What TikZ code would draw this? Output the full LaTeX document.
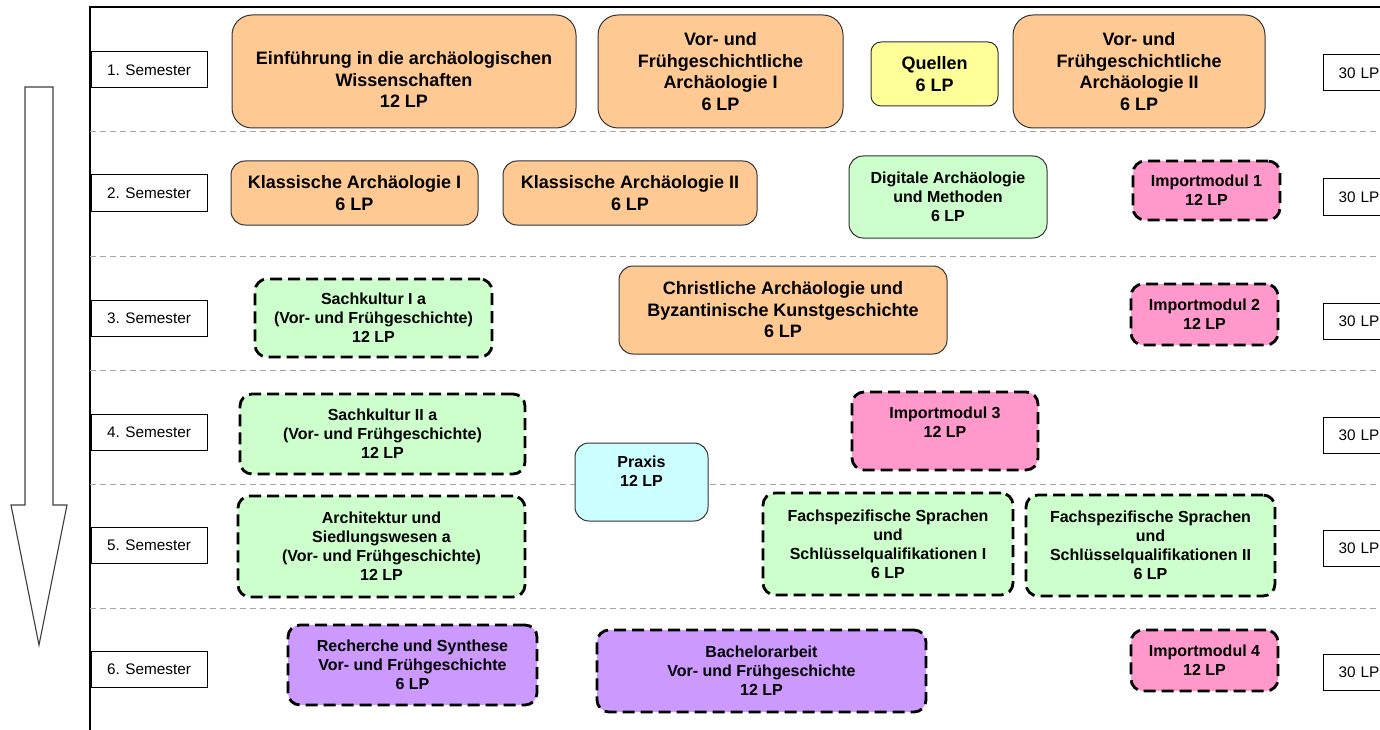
\documentclass[tikz,border=0pt]{standalone}
\usepackage{fontspec}
\setmainfont{Liberation Sans}
\definecolor{ocker}{HTML}{FFC994}
\definecolor{gelb}{HTML}{FFFF99}
\definecolor{gruen}{HTML}{CCFFCC}
\definecolor{rosa}{HTML}{FF99CC}
\definecolor{lila}{HTML}{CC99FF}
\definecolor{hellblau}{HTML}{CCFFFF}
\newcommand{\hoch}[2]{\raisebox{#1}[0pt][0pt]{\begin{tabular}{@{}c@{}}#2\end{tabular}}}

\begin{document}
\begin{tikzpicture}[
		x=1pt, y=-1pt
		,sem/.style={draw, fill=white, line width=1pt, minimum width=116pt, minimum height=36pt, inner sep=0pt, font=\fontsize{15.3}{18}\selectfont}
		,lp/.style={draw, fill=white, line width=1pt, anchor=west, minimum height=36pt, text width=60pt, align=left, inner xsep=15pt, inner ysep=0pt, font=\fontsize{15.3}{18}\selectfont}
		,modul/.style={draw=black!80, line width=1pt, rounded corners=14pt, align=center, inner sep=0pt, font=\bfseries\fontsize{18}{21.5}\selectfont}
		,klein/.style={font=\bfseries\fontsize{16}{19}\selectfont}
		,wahl/.style={draw=black, line width=2.8pt, dash pattern=on 12pt off 6pt, rounded corners=12pt}
		,trenner/.style={draw=gray!70, line width=0.8pt, dash pattern=on 6pt off 4pt}
		,pfeil/.style={draw=black!75, fill=white, line width=1.1pt}
	]
		\useasboundingbox (0,0) rectangle (1380,730);

		% Rahmen und Trennlinien
		\draw[line width=1.3pt] (1380,7) -- (90,7) -- (90,730);
		\foreach \y in {131,256,370,484,608}
			\draw[trenner] (90,\y) -- (1380,\y);

		% Pfeil
		\draw[pfeil] (25,87) -- (53,87) -- (53,505) -- (67,505) -- (39,645) -- (11,505) -- (25,505) -- cycle;

		% Semester
		\node[sem] (s1) at (149,70) {1. Semester};
		\node[sem] (s2) at (149,193) {2. Semester};
		\node[sem] (s3) at (149,318) {3. Semester};
		\node[sem] (s4) at (149,432) {4. Semester};
		\node[sem] (s5) at (149,545) {5. Semester};
		\node[sem] (s6) at (149,669) {6. Semester};

		\node[lp] (lp1) at (1323,73) {30 LP};
		\node[lp] (lp2) at (1323,197) {30 LP};
		\node[lp] (lp3) at (1323,321) {30 LP};
		\node[lp] (lp4) at (1323,435) {30 LP};
		\node[lp] (lp5) at (1323,548) {30 LP};
		\node[lp] (lp6) at (1323,672) {30 LP};

		% 1. Semester
		\node[modul, fill=ocker, rounded corners=20pt, minimum width=344pt, minimum height=113pt] (einf) at (404,71.5)
			{\hoch{-15pt}{Einführung in die archäologischen\\Wissenschaften\\12 LP}};
		\node[modul, fill=ocker, rounded corners=20pt, minimum width=245pt, minimum height=113pt] (vfa1) at (720.5,71.5)
			{Vor- und\\Frühgeschichtliche\\Archäologie I\\6 LP};
		\node[modul, fill=gelb, rounded corners=10pt, minimum width=127pt, minimum height=64pt] (quellen) at (934.5,74)
			{Quellen\\6 LP};
		\node[modul, fill=ocker, rounded corners=20pt, minimum width=252pt, minimum height=113pt] (vfa2) at (1139,71.5)
			{Vor- und\\Frühgeschichtliche\\Archäologie II\\6 LP};

		% 2. Semester
		\node[modul, fill=ocker, minimum width=247pt, minimum height=64pt] (ka1) at (354.5,193)
			{Klassische Archäologie I\\6 LP};
		\node[modul, fill=ocker, minimum width=254pt, minimum height=64pt] (ka2) at (630,193)
			{Klassische Archäologie II\\6 LP};
		\node[modul, klein, fill=gruen, minimum width=198pt, minimum height=82pt] (digi) at (948,197)
			{Digitale Archäologie\\und Methoden\\6 LP};
		\node[modul, klein, wahl, fill=rosa, minimum width=147pt, minimum height=59pt] (imp1) at (1206.5,190.5)
			{Importmodul 1\\12 LP};

		% 3. Semester
		\node[modul, klein, wahl, fill=gruen, minimum width=237pt, minimum height=78pt] (sk1) at (373.5,318)
			{Sachkultur I a\\(Vor- und Frühgeschichte)\\12 LP};
		\node[modul, fill=ocker, minimum width=328pt, minimum height=88pt] (christ) at (783,310)
			{Christliche Archäologie und\\Byzantinische Kunstgeschichte\\6 LP};
		\node[modul, klein, wahl, fill=rosa, minimum width=147pt, minimum height=61pt] (imp2) at (1204.5,314.5)
			{Importmodul 2\\12 LP};

		% 4. Semester
		\node[modul, klein, wahl, fill=gruen, minimum width=285pt, minimum height=80pt] (sk2) at (382.5,434)
			{Sachkultur II a\\(Vor- und Frühgeschichte)\\12 LP};
		\node[modul, klein, wahl, fill=rosa, minimum width=186pt, minimum height=78pt] (imp3) at (945,431)
			{\hoch{2pt}{Importmodul 3\\12 LP}};
		\node[modul, klein, fill=hellblau, minimum width=133pt, minimum height=78pt] (praxis) at (641.5,482)
			{\hoch{4.5pt}{Praxis\\12 LP}};

		% 5. Semester
		\node[modul, klein, wahl, fill=gruen, minimum width=287pt, minimum height=101pt] (arch) at (381.5,546.5)
			{Architektur und\\Siedlungswesen a\\(Vor- und Frühgeschichte)\\12 LP};
		\node[modul, klein, wahl, fill=gruen, minimum width=250pt, minimum height=102pt] (fs1) at (888,544)
			{Fachspezifische Sprachen\\und\\Schlüsselqualifikationen I\\6 LP};
		\node[modul, klein, wahl, fill=gruen, minimum width=249pt, minimum height=101pt] (fs2) at (1150.5,545.5)
			{Fachspezifische Sprachen\\und\\Schlüsselqualifikationen II\\6 LP};

		% 6. Semester
		\node[modul, klein, wahl, fill=lila, minimum width=249pt, minimum height=80pt] (rech) at (412.5,665)
			{Recherche und Synthese\\Vor- und Frühgeschichte\\6 LP};
		\node[modul, klein, wahl, fill=lila, minimum width=329pt, minimum height=82pt] (ba) at (761.5,671)
			{Bachelorarbeit\\Vor- und Frühgeschichte\\12 LP};
		\node[modul, klein, wahl, fill=rosa, minimum width=147pt, minimum height=61pt] (imp4) at (1204.5,660.5)
			{Importmodul 4\\12 LP};
	\end{tikzpicture}
\end{document}
